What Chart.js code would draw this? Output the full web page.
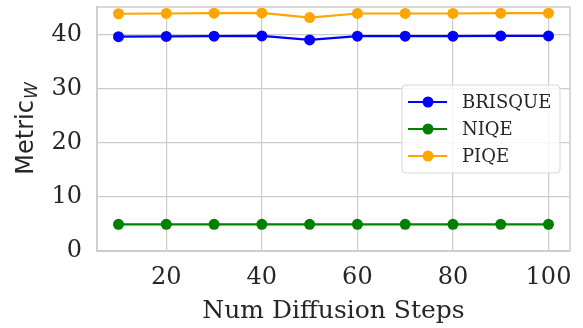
<!DOCTYPE html>
<html>
<head>
<meta charset="utf-8">
<script src="https://cdn.jsdelivr.net/npm/chart.js@4"></script>
<style>
  html, body { margin: 0; padding: 0; background: #fff; }
  #wrap { width: 583px; height: 328px; }
</style>
</head>
<body>
<div id="wrap"><canvas id="chart" width="583" height="328"></canvas></div>
<script>
// diffusion steps
const steps = [10, 20, 30, 40, 50, 60, 70, 80, 90, 100];
const brisque = [39.7, 39.75, 39.8, 39.85, 39.1, 39.8, 39.8, 39.8, 39.85, 39.85];
const niqe = [4.95, 4.95, 4.95, 4.95, 4.95, 4.95, 4.95, 4.95, 4.95, 4.95];
const piqe = [43.95, 44.0, 44.05, 44.1, 43.25, 44.0, 44.0, 44.0, 44.05, 44.05];
const xTicks = [20, 40, 60, 80, 100];
const yTicks = [0, 10, 20, 30, 40];

const seriesNames = ['BRISQUE', 'NIQE', 'PIQE'];
const seriesColors = ['#0000ff', '#008000', '#ffa500'];
const seriesValues = [brisque, niqe, piqe];

const serif = "'DejaVu Serif', serif";
const sans = "'DejaVu Sans', sans-serif";
const gridColor = '#cccccc';

// y title with subscript + legend box inside the plot
const extras = {
    id: 'extras',
    afterDraw(chart) {
        const ctx = chart.ctx;
        const area = chart.chartArea;
        ctx.save();

        // y axis title: Metric_W
        ctx.translate(27, (area.top + area.bottom) / 2);
        ctx.rotate(-Math.PI / 2);
        ctx.fillStyle = '#262626';
        ctx.textBaseline = 'middle';
        ctx.font = '24px ' + sans;
        const main = 'Metric';
        const wMain = ctx.measureText(main).width;
        ctx.font = 'italic 17px ' + sans;
        const wSub = ctx.measureText('W').width;
        const start = -(wMain + wSub) / 2;
        ctx.font = '24px ' + sans;
        ctx.textAlign = 'left';
        ctx.fillText(main, start, 0);
        ctx.font = 'italic 17px ' + sans;
        ctx.fillText('W', start + wMain + 1, 6);
        ctx.restore();

        // legend
        ctx.save();
        const bx = 402, by = 85, bw = 158, bh = 88;
        ctx.beginPath();
        ctx.roundRect(bx, by, bw, bh, 4);
        ctx.fillStyle = 'rgba(255,255,255,0.8)';
        ctx.fill();
        ctx.strokeStyle = '#d6d6d6';
        ctx.lineWidth = 1;
        ctx.stroke();
        seriesNames.forEach((name, i) => {
            const y = 102 + i * 27;
            ctx.strokeStyle = seriesColors[i];
            ctx.lineWidth = 2.2;
            ctx.beginPath();
            ctx.moveTo(408, y);
            ctx.lineTo(447, y);
            ctx.stroke();
            ctx.fillStyle = seriesColors[i];
            ctx.beginPath();
            ctx.arc(428, y, 5.5, 0, Math.PI * 2);
            ctx.fill();
            ctx.fillStyle = '#262626';
            ctx.font = '18px ' + serif;
            ctx.textAlign = 'left';
            ctx.textBaseline = 'middle';
            ctx.fillText(name, 462, y + 1);
        });
        ctx.restore();
    }
};

new Chart(document.getElementById('chart').getContext('2d'), {
    type: 'line',
    data: {
        datasets: seriesNames.map((name, i) => ({
            label: name,
            data: steps.map((s, j) => ({ x: s, y: seriesValues[i][j] })),
            borderColor: seriesColors[i],
            backgroundColor: seriesColors[i],
            borderWidth: 2.2,
            pointRadius: 5.5,
            pointBorderWidth: 0,
            fill: false,
            tension: 0
        }))
    },
    options: {
        responsive: false,
        animation: false,
        devicePixelRatio: 1,
        layout: { padding: { top: 7, right: 13, left: 0, bottom: 0 } },
        plugins: { legend: { display: false }, tooltip: { enabled: false } },
        scales: {
            x: {
                type: 'linear',
                min: 5.5,
                max: 104.5,
                afterBuildTicks: axis => { axis.ticks = xTicks.map(v => ({ value: v })); },
                afterFit: axis => { axis.height = 77; axis.paddingLeft = 0; axis.paddingRight = 0; },
                grid: { color: gridColor, lineWidth: 1.2, drawTicks: false },
                border: { color: gridColor, width: 1.5 },
                ticks: { font: { family: serif, size: 24 }, color: '#262626', padding: 12, maxRotation: 0 },
                title: { display: true, text: 'Num Diffusion Steps', font: { family: serif, size: 25 }, color: '#262626', padding: { top: 0, bottom: 2 } }
            },
            y: {
                min: 0,
                max: 45.2,
                afterBuildTicks: axis => { axis.ticks = yTicks.map(v => ({ value: v })); },
                afterFit: axis => { axis.width = 97; axis.paddingTop = 0; axis.paddingBottom = 0; },
                grid: { color: gridColor, lineWidth: 1.2, drawTicks: false },
                border: { color: gridColor, width: 1.5 },
                ticks: { font: { family: serif, size: 24 }, color: '#262626', padding: 15 }
            }
        }
    },
    plugins: [extras, {
        id: 'frame',
        afterDatasetsDraw(chart) {
            // right and top spines
            const { ctx, chartArea: a } = chart;
            ctx.save();
            ctx.strokeStyle = gridColor;
            ctx.lineWidth = 1.5;
            ctx.strokeRect(a.left, a.top, a.right - a.left, a.bottom - a.top);
            ctx.restore();
        }
    }]
});
</script>
</body>
</html>
